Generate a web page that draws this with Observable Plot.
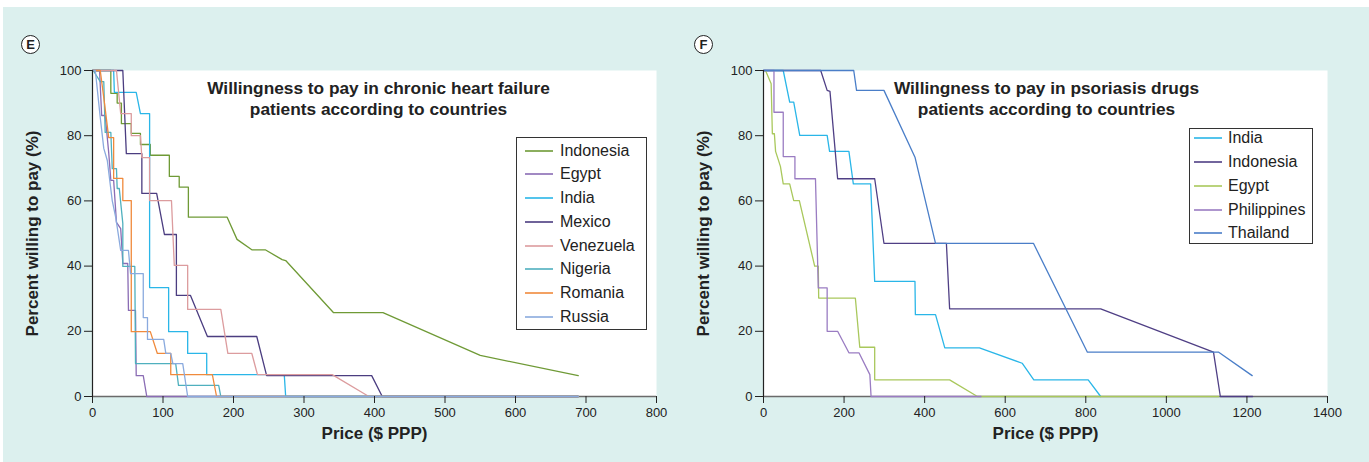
<!DOCTYPE html>
<html>
<head>
<meta charset="utf-8">
<script src="https://cdn.jsdelivr.net/npm/d3@7"></script>
<script src="https://cdn.jsdelivr.net/npm/@observablehq/plot@0.6"></script>
<style>
  html, body { margin: 0; padding: 0; background: #ffffff; }
  body { width: 1369px; height: 462px; overflow: hidden; position: relative; font-family: "Liberation Sans", Arial, Helvetica, sans-serif; }
  #bg { position: absolute; left: 3px; top: 7px; width: 1366px; height: 455px; background: #dcf0ee; }
  .plotwrap { position: absolute; top: 0; }
  .plotwrap svg { background: transparent; overflow: visible; }
  .tag { position: absolute; width: 17px; height: 17px; border: 1.5px solid #222; border-radius: 50%; background: #fff;
         font-weight: bold; font-size: 13px; line-height: 17px; text-align: center; color: #222; }
  .legend { position: absolute; background: #fff; border: 1px solid #333; box-sizing: border-box; }
  .legend .row { position: absolute; left: 0; height: 20px; display: flex; align-items: center; font-size: 16px; color: #222; white-space: nowrap; }
  .legend svg.sw { flex: none; display: block; }
</style>
</head>
<body>
<div id="bg"></div>
<div id="plotE" class="plotwrap" style="left:0px;"></div>
<div id="plotF" class="plotwrap" style="left:670px;"></div>
<div class="tag" style="left:21px; top:35px;">E</div>
<div class="tag" style="left:694px; top:35px;">F</div>
<div id="legE" class="legend" style="left:516px; top:137px; width:131px; height:193px;"></div>
<div id="legF" class="legend" style="left:1189px; top:128px; width:124px; height:116px;"></div>
<script>
// ---------------- Panel E: chronic heart failure ----------------
const E_names = ["Indonesia", "Egypt", "India", "Mexico", "Venezuela", "Nigeria", "Romania", "Russia"];
const E_colors = ["#6f9a36", "#8a6cb4", "#2ab6e8", "#4b3d80", "#dc9c9e", "#4fb0be", "#f08a3c", "#8aaade"];
const E_xTicks = [0, 100, 200, 300, 400, 500, 600, 700, 800];
const E_yTicks = [0, 20, 40, 60, 80, 100];

const E_Indonesia_price = [0, 26, 26, 35, 35, 41, 41, 55, 55, 68, 68, 82, 82, 109, 109, 123, 123, 136, 136, 191, 205, 226, 245, 269, 274, 342, 412, 550, 689];
const E_Indonesia_pct   = [100, 100, 93, 93, 90, 90, 83.7, 83.7, 80.7, 80.7, 77.3, 77.3, 74, 74, 67.5, 67.5, 64.2, 64.2, 55, 55, 48.2, 45, 45, 42, 41.7, 25.7, 25.7, 12.6, 6.4];

const E_Egypt_price = [0, 10, 13, 18, 23, 26, 30, 34, 40, 43, 50, 51, 61, 62, 72, 77, 689];
const E_Egypt_pct   = [100, 100, 86.2, 86.2, 74.8, 66.3, 66.3, 53.4, 51.5, 40.8, 40.8, 26.4, 26.4, 6.4, 6.4, 0, 0];

const E_India_price = [0, 30, 31, 62, 68, 81, 81, 108, 108, 135, 135, 162, 162, 272, 274, 689];
const E_India_pct   = [100, 100, 93.3, 93.3, 86.8, 86.8, 33.4, 33.4, 19.9, 19.9, 13.2, 13.2, 6.7, 6.7, 0, 0];

const E_Mexico_price = [0, 43, 48, 70, 70, 91, 102, 119, 119, 139, 163, 233, 247, 396, 411, 689];
const E_Mexico_pct   = [100, 100, 74.5, 74.5, 62.3, 62.3, 49.7, 49.7, 31, 31, 18.4, 18.4, 6.4, 6.4, 0, 0];

const E_Venezuela_price = [0, 34, 40, 55, 55, 68, 70, 81, 81, 112, 116, 135, 135, 182, 192, 226, 234, 340, 392, 689];
const E_Venezuela_pct   = [100, 100, 86.8, 86.8, 80, 80, 73.3, 73.3, 60.1, 60.1, 40.2, 40.2, 26.7, 26.7, 13.2, 13.2, 6.7, 6.7, 0, 0];

const E_Nigeria_price = [0, 1, 11, 16, 18, 26, 28, 34, 35, 38, 43, 43, 60, 61, 118, 122, 179, 182, 689];
const E_Nigeria_pct   = [100, 100, 96.6, 96.6, 81, 81, 69.9, 69.9, 63.8, 63.8, 53.1, 39.9, 39.9, 10.1, 10.1, 3.4, 3.4, 0, 0];

const E_Romania_price = [0, 11, 17, 23, 30, 30, 43, 43, 55, 55, 82, 92, 111, 111, 170, 176, 689];
const E_Romania_pct   = [100, 100, 90, 79.4, 79.4, 66.9, 66.9, 60.1, 60.1, 19.9, 19.9, 13.2, 13.2, 6.7, 6.7, 0, 0];

const E_Russia_price = [0, 4, 11, 16, 21, 28, 33, 40, 51, 54, 72, 72, 78, 78, 101, 104, 111, 114, 128, 135, 689];
const E_Russia_pct   = [100, 100, 85.6, 76.1, 72.4, 60.1, 54.9, 44.8, 44.8, 37.7, 37.7, 24.2, 24.2, 17.5, 17.5, 13.2, 13.2, 10.1, 10.1, 0, 0];

// ---------------- Panel F: psoriasis drugs ----------------
const F_names = ["India", "Indonesia", "Egypt", "Philippines", "Thailand"];
const F_colors = ["#2ab6e8", "#4f3f85", "#a9c85c", "#9a7cc2", "#4a7ec8"];
const F_xTicks = [0, 200, 400, 600, 800, 1000, 1200, 1400];
const F_yTicks = [0, 20, 40, 60, 80, 100];

const F_India_price = [0, 49, 65, 75, 90, 158, 164, 212, 223, 266, 276, 376, 377, 427, 450, 536, 642, 671, 806, 837];
const F_India_pct   = [100, 100, 90.3, 90.3, 80.1, 80.1, 75.2, 75.2, 65.2, 65.2, 35.3, 35.3, 25.1, 25.1, 14.9, 14.9, 10.2, 5.1, 5.1, 0];

const F_Indonesia_price = [0, 142, 158, 165, 184, 276, 299, 454, 462, 837, 1117, 1134, 1214];
const F_Indonesia_pct   = [100, 100, 93.9, 93.6, 66.8, 66.8, 47, 47, 26.9, 26.9, 13.6, 0, 0];

const F_Egypt_price = [5, 19, 22, 27, 30, 42, 49, 65, 75, 89, 127, 136, 137, 228, 239, 276, 276, 462, 531, 1130];
const F_Egypt_pct   = [100, 95.9, 80.6, 80.6, 75.2, 70.6, 65.2, 65.2, 60.1, 60.1, 40, 40, 30.2, 30.2, 15.1, 15.1, 5.1, 5.1, 0, 0];

const F_Philippines_price = [0, 26, 26, 49, 49, 78, 78, 129, 136, 158, 158, 184, 212, 237, 264, 267, 540];
const F_Philippines_pct   = [100, 100, 87.2, 87.2, 73.6, 73.6, 66.8, 66.8, 33.3, 33.3, 20, 20, 13.4, 13.4, 6.7, 0, 0];

const F_Thailand_price = [0, 224, 231, 299, 376, 427, 670, 804, 1130, 1213];
const F_Thailand_pct   = [100, 100, 93.9, 93.9, 73.4, 47, 47, 13.6, 13.6, 6.4];

// ---------------- build tables ----------------
function series(name, xs, ys) { return xs.map((x, i) => ({name, price: x, pct: ys[i]})); }

const E_data = [
  series("Indonesia", E_Indonesia_price, E_Indonesia_pct),
  series("Egypt", E_Egypt_price, E_Egypt_pct),
  series("India", E_India_price, E_India_pct),
  series("Mexico", E_Mexico_price, E_Mexico_pct),
  series("Venezuela", E_Venezuela_price, E_Venezuela_pct),
  series("Nigeria", E_Nigeria_price, E_Nigeria_pct),
  series("Romania", E_Romania_price, E_Romania_pct),
  series("Russia", E_Russia_price, E_Russia_pct)
].flat();

const F_data = [
  series("India", F_India_price, F_India_pct),
  series("Indonesia", F_Indonesia_price, F_Indonesia_pct),
  series("Egypt", F_Egypt_price, F_Egypt_pct),
  series("Philippines", F_Philippines_price, F_Philippines_pct),
  series("Thailand", F_Thailand_price, F_Thailand_pct)
].flat();

const FONT = "Liberation Sans, Arial, Helvetica, sans-serif";
const fmt = d => String(d);

function makePanel({data, names, colors, xDomain, xTicks, yTicks, width, marginLeft, marginRight, title, titleDx}) {
  return Plot.plot({
    width, height: 462,
    marginLeft, marginRight, marginTop: 70, marginBottom: 66,
    x: {domain: xDomain, ticks: xTicks},
    y: {domain: [0, 100], ticks: yTicks},
    color: {domain: names, range: colors},
    style: {background: "transparent", fontFamily: FONT, fontSize: "13px", color: "#222", overflow: "visible"},
    marks: [
      Plot.frame({fill: "white", stroke: null}),
      Plot.ruleY([0], {stroke: "#6a6a6a", strokeWidth: 1.5}),
      Plot.line(data, {x: "price", y: "pct", z: "name", stroke: "name", strokeWidth: 1.3, curve: "linear"}),
      Plot.ruleX([0], {stroke: "#222", strokeWidth: 1.2}),
      Plot.axisX({ticks: xTicks, tickFormat: fmt, tickSize: 7, tickPadding: 4, label: null, fontSize: 13, stroke: "#222"}),
      Plot.axisY({ticks: yTicks, tickFormat: fmt, tickSize: 8, tickPadding: 3, label: null, fontSize: 13, stroke: "#222"}),
      Plot.text(["Price ($ PPP)"], {frameAnchor: "bottom", dy: 42, fontWeight: "bold", fontSize: 17, fill: "#222"}),
      Plot.text(["Percent willing to pay (%)"], {frameAnchor: "left", dx: -60, rotate: -90, textAnchor: "middle", fontWeight: "bold", fontSize: 17, fill: "#222"}),
      Plot.text([title], {frameAnchor: "top", dx: titleDx, dy: 27, lineAnchor: "middle", lineHeight: 1.22, fontWeight: "bold", fontSize: 17.3, fill: "#222"})
    ]
  });
}

document.getElementById("plotE").appendChild(makePanel({
  data: E_data, names: E_names, colors: E_colors, xDomain: [0, 800], xTicks: E_xTicks, yTicks: E_yTicks,
  width: 670, marginLeft: 92, marginRight: 14,
  title: "Willingness to pay in chronic heart failure\npatients according to countries", titleDx: 4
}));

document.getElementById("plotF").appendChild(makePanel({
  data: F_data, names: F_names, colors: F_colors, xDomain: [0, 1400], xTicks: F_xTicks, yTicks: F_yTicks,
  width: 699, marginLeft: 93, marginRight: 42,
  title: "Willingness to pay in psoriasis drugs\npatients according to countries", titleDx: 1
}));

const SVGNS = "http://www.w3.org/2000/svg";
function legend(id, names, colors, firstCenter, step, padLeft, gap) {
  const el = document.getElementById(id);
  names.forEach((n, i) => {
    const row = document.createElement("div");
    row.className = "row";
    row.style.top = Math.round(firstCenter + i * step - 10) + "px";
    const sw = document.createElementNS(SVGNS, "svg");
    sw.setAttribute("class", "sw");
    sw.setAttribute("width", 28);
    sw.setAttribute("height", 6);
    sw.style.marginLeft = padLeft + "px";
    sw.style.marginRight = gap + "px";
    const ln = document.createElementNS(SVGNS, "line");
    ln.setAttribute("x1", 0); ln.setAttribute("x2", 28);
    ln.setAttribute("y1", 3); ln.setAttribute("y2", 3);
    ln.setAttribute("stroke", colors[i]);
    ln.setAttribute("stroke-width", 1.6);
    sw.appendChild(ln);
    const t = document.createElement("span");
    t.textContent = n;
    row.appendChild(sw); row.appendChild(t);
    el.appendChild(row);
  });
}
legend("legE", E_names, E_colors, 12.7, 23.7, 8, 7);
legend("legF", F_names, F_colors, 9.3, 23.75, 4, 6);
</script>
</body>
</html>
